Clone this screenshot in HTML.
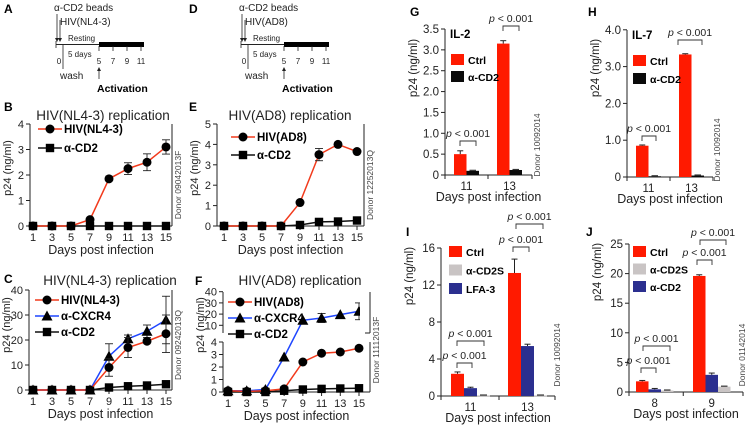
<!DOCTYPE html>
<html><head><meta charset="utf-8"><style>
html,body{margin:0;padding:0;background:#fff}
svg{display:block;font-family:"Liberation Sans",Arial,sans-serif}
</style></head><body>
<svg id="fig" width="749" height="426" viewBox="0 0 749 426" xmlns="http://www.w3.org/2000/svg"></svg>
<script>
// ---------- data ----------
const days = [1,3,5,7,9,11,13,15];
const dayTicks = ["1","3","5","7","9","11","13","15"];
// Panel B
const bHiv = [0,0,0,0.25,1.85,2.25,2.5,3.1];
const bHivErr = [0,0,0,0,0,0.23,0.33,0.28];
const bCd2 = [0,0,0,0,0,0,0,0];
const bTicks = [0,1,2,3,4];
// Panel E
const eHiv = [0,0,0,0,1.15,3.5,4.0,3.65];
const eHivErr = [0,0,0,0,0,0.3,0,0];
const eCd2 = [0,0,0,0,0.05,0.2,0.22,0.27];
const eTicks = [0,1,2,3,4,5];
// Panel C
const cHiv = [0,0,0,0,9,17,19.5,22.5];
const cHivErr = [0,0,0,0,3.5,4,0,7.5];
const cCx = [0,0,0,0,13.5,20.5,23.5,28];
const cCxErr = [0,0,0,0,5,1.5,2.5,9.5];
const cCd2 = [0,0,0,0,1,1.5,1.8,2.3];
const cTicks = [0,10,20,30,40];
// Panel F
const fHiv = [0.1,0.05,0.1,0.25,2.4,3.1,3.2,3.5];
const fCx = [0.1,0.1,0.2,2.8,14.5,16.5,19.5,22.5];
const fCxErr = [0,0,0,0,0,4,0,7.5];
const fCd2 = [0,0,0,0.1,0.2,0.25,0.28,0.3];
const fTicksLow = [0,1,2,3,4];
const fTicksHigh = [10,20,30,40];
// Panel G
const gDays = ["11","13"];
const gCtrl = [0.5,3.15];
const gCtrlErr = [0.08,0.07];
const gCd2 = [0.1,0.12];
const gTicks = ["0","0.5","1.0","1.5","2.0","2.5","3.0","3.5"];
// Panel H
const hDays = ["11","13"];
const hCtrl = [0.85,3.33];
const hCtrlErr = [0.02,0.02];
const hCd2 = [0.02,0.04];
const hTicks = ["0","1.0","2.0","3.0","4.0"];
// Panel I
const iDays = ["11","13"];
const iCtrl = [2.4,13.3];
const iCtrlErr = [0.2,1.5];
const iLfa = [0.85,5.4];
const iLfaErr = [0.1,0.2];
const iCd2s = [0.05,0.05];
const iTicks = ["0","4","8","12","16"];
// Panel J
const jDays = ["8","9"];
const jCtrl = [1.8,19.6];
const jCtrlErr = [0.15,0.2];
const jCd2 = [0.45,2.9];
const jCd2Err = [0.15,0.3];
const jCd2s = [0.25,0.9];
const jTicks = ["0","5","10","15","20","25"];

// ---------- helpers ----------
const NS="http://www.w3.org/2000/svg";
const svg=document.getElementById('fig');
function mk(tag,attrs,parent){const e=document.createElementNS(NS,tag);for(const k in attrs)e.setAttribute(k,attrs[k]);(parent||svg).appendChild(e);return e;}
function txt(x,y,s,opt,parent){opt=opt||{};const e=mk('text',{x:x,y:y,'font-size':opt.size||10,'text-anchor':opt.anchor||'start','font-weight':opt.bold?'bold':'normal','fill':opt.fill||'#222','font-style':opt.italic?'italic':'normal'},parent);if(opt.rot)e.setAttribute('transform','rotate('+opt.rot+' '+x+' '+y+')');e.textContent=s;return e;}
function line(x1,y1,x2,y2,c,w,parent){return mk('line',{x1:x1,y1:y1,x2:x2,y2:y2,stroke:c||'#222','stroke-width':w||1},parent);}
function marker(type,x,y,parent){
  if(type==='circle')return mk('circle',{cx:x,cy:y,r:4.5,fill:'#000'},parent);
  if(type==='square')return mk('rect',{x:x-4.2,y:y-4.2,width:8.4,height:8.4,fill:'#000'},parent);
  return mk('polygon',{points:(x)+','+(y-5.5)+' '+(x-5.5)+','+(y+4.5)+' '+(x+5.5)+','+(y+4.5),fill:'#000'},parent);
}
function panelLabel(x,y,s){const t=txt(x,y,s,{size:12,bold:true,fill:'#000'});}

// timeline panels A / D
function timeline(dx,virus,letter){
  const g=mk('g',{});
  
  
  panelLabel(dx+4,13,letter);
  txt(dx+54,11,'α-CD2 beads',{size:10},g);
  line(dx+57,14,dx+57,41,'#222',0.8,g);
  line(dx+60,20,dx+60,41,'#222',0.8,g);
  txt(dx+60,25,virus,{size:10},g);
  mk('polygon',{points:(dx+55)+',38 '+(dx+59)+',38 '+(dx+57)+',42',fill:'#222'},g);
  mk('polygon',{points:(dx+58)+',38 '+(dx+62)+',38 '+(dx+60)+',42',fill:'#222'},g);
  line(dx+56,44.5,dx+100,44.5,'#222',1,g);
  line(dx+56,41,dx+56,48,'#222',0.8,g);
  mk('rect',{x:dx+99,y:42,width:45,height:5,fill:'#000'},g);
  [99,113,127,141].forEach(p=>line(dx+p,46,dx+p,51,'#222',0.8,g));
  txt(dx+68,41,'Resting',{size:8},g);
  txt(dx+68,57,'5 days',{size:8},g);
  txt(dx+59,64,'0',{size:8,anchor:'middle'},g);
  line(dx+63,44,dx+63,69,'#222',0.8,g);
  txt(dx+60,79,'wash',{size:10},g);
  [['5',99],['7',113],['9',127],['11',141]].forEach(a=>txt(dx+a[1],64,a[0],{size:8,anchor:'middle'},g));
  line(dx+99,69,dx+99,79,'#222',0.8,g);
  mk('polygon',{points:(dx+97)+',71 '+(dx+101)+',71 '+(dx+99)+',67',fill:'#222'},g);
  txt(dx+97,92,'Activation',{size:10.5,bold:true,fill:'#000'},g);
}
timeline(0,'HIV(NL4-3)','A');
timeline(185,'HIV(AD8)','D');

// generic line panel
function linePanel(cfg){
  const g=mk('g',{});
  
  
  const xs=d=>cfg.x1+(d-1)/14*(cfg.x15-cfg.x1);
  const ys=cfg.ys;
  txt(cfg.titleX,cfg.titleY,cfg.title,{size:13.5,anchor:'middle'},g);
  cfg.yAxes.forEach(a=>{
    line(cfg.ax,a[0],cfg.ax,a[1],'#222',1,g);
    line(cfg.rx,a[0],cfg.rx,a[1],'#222',1,g);
  });
  line(cfg.ax,cfg.bottom,cfg.rx,cfg.bottom,'#222',1,g);
  cfg.ticks.forEach(t=>{const y=ys(t);line(cfg.ax-4,y,cfg.ax,y,'#222',1,g);txt(cfg.ax-6,y+4,String(t),{size:11,anchor:'end'},g);});
  days.forEach((d,i)=>{line(xs(d),cfg.bottom,xs(d),cfg.bottom+4,'#222',1,g);txt(xs(d),cfg.bottom+15,dayTicks[i],{size:11,anchor:'middle'},g);});
  const xt=txt((cfg.ax+cfg.rx)/2,cfg.bottom+28,'Days post infection',{size:12.5,anchor:'middle'},g);
  
  const yt=txt(cfg.ax-19,cfg.yLabelY,'p24 (ng/ml)',{size:11,anchor:'middle',rot:-90},g);
  
  txt(cfg.rx+9,cfg.donorY,cfg.donor,{size:8.5,anchor:'middle',rot:-90,fill:'#444'},g);
  cfg.series.slice().reverse().forEach(s=>{
    const pts=s.vals.map((v,i)=>xs(days[i])+','+ys(v)).join(' ');
    const pl=mk('polyline',{points:pts,fill:'none',stroke:s.color,'stroke-width':1.5},g);
    
    
    s.vals.forEach((v,i)=>{
      if(s.err&&s.err[i]){const x=xs(days[i]);const y1=ys(v+s.err[i]),y2=ys(Math.max(0,v-s.err[i]));line(x,y1,x,y2,'#222',0.9,g);line(x-4,y1,x+4,y1,'#222',0.9,g);line(x-4,y2,x+4,y2,'#222',0.9,g);}
      const m=marker(s.marker,xs(days[i]),ys(v),g);
      
      
    });
  });
  cfg.series.forEach((s,k)=>{
    const ly=cfg.legY+k*cfg.legDy;
    line(cfg.legX-12,ly,cfg.legX+12,ly,s.color,1.5,g);
    marker(s.marker,cfg.legX,ly,g);
    const lt=txt(cfg.legX+14,ly+4,s.label,{size:11.5,bold:true,fill:'#000'},g);
    
  });
}
const RED='#f23a1c', BLUE='#1f46ff';
panelLabel(4,111,'B');
linePanel({name:'chart-b',title:'HIV(NL4-3) replication',titleX:103,titleY:120,ax:30,rx:172,bottom:226,x1:33,x15:166,
  ys:v=>226-v*25.5,yAxes:[[124,226]],ticks:bTicks,yLabelY:168,donor:'Donor 09042013F',donorY:185,
  legX:50,legY:129,legDy:19,
  series:[{key:'hiv-nl43',label:'HIV(NL4-3)',vals:bHiv,err:bHivErr,color:RED,marker:'circle'},
          {key:'a-cd2',label:'α-CD2',vals:bCd2,color:'#111',marker:'square'}]});
panelLabel(189,111,'E');
linePanel({name:'chart-e',title:'HIV(AD8) replication',titleX:290,titleY:120,ax:217,rx:364,bottom:226,x1:224,x15:357,
  ys:v=>226-v*20.4,yAxes:[[124,226]],ticks:eTicks,yLabelY:168,donor:'Donor 12252013Q',donorY:185,
  legX:243,legY:137,legDy:18,
  series:[{key:'hiv-ad8',label:'HIV(AD8)',vals:eHiv,err:eHivErr,color:RED,marker:'circle'},
          {key:'a-cd2',label:'α-CD2',vals:eCd2,color:'#111',marker:'square'}]});
panelLabel(4,283,'C');
linePanel({name:'chart-c',title:'HIV(NL4-3) replication',titleX:110,titleY:285,ax:29,rx:172,bottom:390,x1:33,x15:166,
  ys:v=>390-v*2.5,yAxes:[[290,390]],ticks:cTicks,yLabelY:325,donor:'Donor 09242013Q',donorY:345,
  legX:47,legY:300,legDy:16,
  series:[{key:'hiv-nl43',label:'HIV(NL4-3)',vals:cHiv,err:cHivErr,color:RED,marker:'circle'},
          {key:'a-cxcr4',label:'α-CXCR4',vals:cCx,err:cCxErr,color:BLUE,marker:'triangle'},
          {key:'a-cd2',label:'α-CD2',vals:cCd2,color:'#111',marker:'square'}]});
panelLabel(195,285,'F');
(function(){
  const yF=v=>v<=4.5?392-v*12.5:336.5-v*1.12;
  linePanel({name:'chart-f',title:'HIV(AD8) replication',titleX:300,titleY:285,ax:223,rx:370,bottom:392,x1:228,x15:359,
    ys:yF,yAxes:[[292,333],[342,392]],ticks:fTicksLow.concat(fTicksHigh),yLabelY:325,donor:'Donor 11112013F',donorY:350,
    legX:240,legY:302,legDy:16,
    series:[{key:'hiv-ad8',label:'HIV(AD8)',vals:fHiv,color:RED,marker:'circle'},
            {key:'a-cxcr4',label:'α-CXCR4',vals:fCx,err:fCxErr,color:BLUE,marker:'triangle'},
            {key:'a-cd2',label:'α-CD2',vals:fCd2,color:'#111',marker:'square'}]});
  mk('rect',{x:360,y:292,width:9,height:40,fill:'#fff'});
  line(370,292,370,333,'#222',1); line(365,333,370,333,'#222',1);
})();

// bar panels
function barPanel(cfg){
  const g=mk('g',{});
  
  
  const ys=v=>cfg.bottom-v*cfg.k;
  line(cfg.ax,cfg.top,cfg.ax,cfg.bottom,'#222',1,g);
  line(cfg.ax,cfg.bottom,cfg.axEnd,cfg.bottom,'#222',1,g);
  cfg.tickLabels.forEach(t=>{const y=ys(parseFloat(t));line(cfg.ax-4,y,cfg.ax,y,'#222',1,g);txt(cfg.ax-6,y+4,t,{size:11.5,anchor:'end'},g);});
  const mid=(cfg.groupX[0]+cfg.groupX[1])/2+cfg.bw*cfg.series.length/2;
  [cfg.ax,mid,cfg.axEnd].forEach(x=>line(x,cfg.bottom,x,cfg.bottom+4,'#222',1,g));
  cfg.cats.forEach((c,i)=>txt(cfg.groupX[i]+cfg.bw*cfg.series.length/2,cfg.bottom+15,c,{size:11.5,anchor:'middle'},g));
  const xt=txt((cfg.ax+cfg.axEnd)/2,cfg.bottom+26,'Days post infection',{size:12.5,anchor:'middle'},g);
  
  const yt=txt(cfg.ax-28,cfg.yLabelY,'p24 (ng/ml)',{size:11.5,anchor:'middle',rot:-90},g);
  
  txt(cfg.donorX,cfg.donorY,cfg.donor,{size:8.5,anchor:'middle',rot:-90,fill:'#444'},g);
  cfg.series.forEach((s,j)=>{
    s.vals.forEach((v,i)=>{
      const x=cfg.groupX[i]+j*cfg.bw;
      const r=mk('rect',{x:x,y:ys(v),width:cfg.bw,height:Math.max(0.8,cfg.bottom-ys(v)),fill:s.color},g);
      
      
      if(s.err){const cx=x+cfg.bw/2,y1=ys(v+s.err[i]);line(cx,ys(v),cx,y1,'#222',1,g);line(cx-3,y1,cx+3,y1,'#222',1,g);}
      else {line(x+3,ys(v)-0.5,x+cfg.bw-3,ys(v)-0.5,'#333',1.2,g);}
    });
  });
  if(cfg.heading)txt(cfg.legX-1,cfg.legY-22,cfg.heading,{size:11.5,bold:true,fill:'#000'},g);
  cfg.legOrder.forEach((j,k)=>{
    const s=cfg.series[j];const ly=cfg.legY+k*cfg.legDy;
    mk('rect',{x:cfg.legX,y:ly-6,width:13,height:11,fill:s.color},g);
    const lt=txt(cfg.legX+17,ly+4,s.label,{size:10.5,bold:true,fill:'#000'},g);
    
  });
  cfg.brackets.forEach(b=>{
    mk('path',{d:'M'+b[0]+','+(b[2]+5)+' V'+b[2]+' H'+b[1]+' V'+(b[2]+5),fill:'none',stroke:'#333','stroke-width':0.9},g);
    const t=txt((b[0]+b[1])/2,b[2]-4,'',{size:10.5,anchor:'middle'},g);
    const ti=document.createElementNS(NS,'tspan');ti.setAttribute('font-style','italic');ti.textContent='p';t.appendChild(ti);
    t.appendChild(document.createTextNode(' < 0.001'));
  });
}
const BRED='#ff1a00', NAVY='#2b2f8f', GRAY='#c9c4c4';
panelLabel(410,16,'G');
barPanel({name:'chart-g',ax:445,axEnd:532,bottom:175,top:29,k:146/3.5,bw:12.5,groupX:[454,497],cats:gDays,tickLabels:gTicks,
  yLabelY:68,donor:'Donor 10092014',donorX:540,donorY:145,heading:'IL-2',legX:451,legY:60,legDy:17,legOrder:[0,1],
  series:[{key:'ctrl',label:'Ctrl',vals:gCtrl,err:gCtrlErr,color:BRED},{key:'a-cd2',label:'α-CD2',vals:gCd2,color:'#0a0a0a'}],
  brackets:[[460,476,141],[503,519,26]]});
panelLabel(588,16,'H');
barPanel({name:'chart-h',ax:627,axEnd:713,bottom:177,top:30,k:36.8,bw:12.5,groupX:[636,679],cats:hDays,tickLabels:hTicks,
  yLabelY:68,donor:'Donor 10092014',donorX:720,donorY:150,heading:'IL-7',legX:633,legY:61,legDy:18,legOrder:[0,1],
  series:[{key:'ctrl',label:'Ctrl',vals:hCtrl,err:hCtrlErr,color:BRED},{key:'a-cd2',label:'α-CD2',vals:hCd2,color:'#0a0a0a'}],
  brackets:[[642,656,136],[678,702,40]]});
panelLabel(406,236,'I');
barPanel({name:'chart-i',ax:441,axEnd:555,bottom:396,top:248,k:148/16,bw:13,groupX:[451,508],cats:iDays,tickLabels:iTicks,
  yLabelY:276,donor:'Donor 10092014',donorX:560,donorY:355,legX:449,legY:252,legDy:18.5,legOrder:[0,2,1],
  series:[{key:'ctrl',label:'Ctrl',vals:iCtrl,err:iCtrlErr,color:BRED},{key:'lfa-3',label:'LFA-3',vals:iLfa,err:iLfaErr,color:NAVY},{key:'a-cd2s',label:'α-CD2S',vals:iCd2s,color:GRAY}],
  brackets:[[457,472,363],[457,484,341],[513,529,247],[516,543,224]]});
panelLabel(586,236,'J');
barPanel({name:'chart-j',ax:629,axEnd:743,bottom:392,top:244,k:148/25,bw:12.5,groupX:[636,693],cats:jDays,tickLabels:jTicks,
  yLabelY:272,donor:'Donor 01142014',donorX:745,donorY:355,legX:633,legY:252,legDy:17.5,legOrder:[0,2,1],
  series:[{key:'ctrl',label:'Ctrl',vals:jCtrl,err:jCtrlErr,color:BRED},{key:'a-cd2',label:'α-CD2',vals:jCd2,err:jCd2Err,color:NAVY},{key:'a-cd2s',label:'α-CD2S',vals:jCd2s,color:GRAY}],
  brackets:[[641,656,368],[643,670,346],[697,712,260],[700,726,240]]});
</script>
</body></html>
